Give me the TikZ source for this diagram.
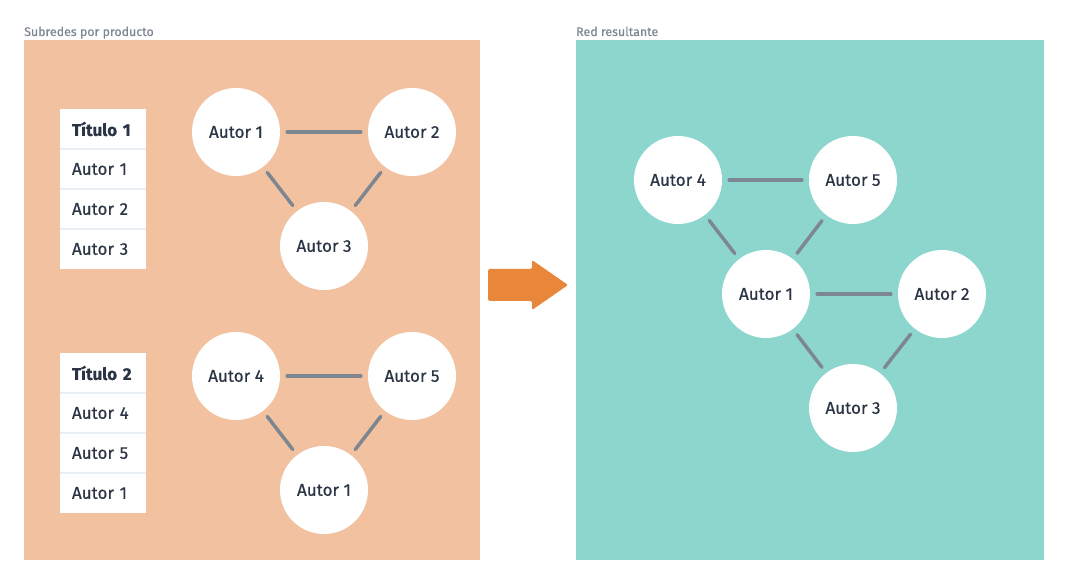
\documentclass[tikz,border=0pt]{standalone}
\usepackage{fontspec}
\setmainfont{Fira Sans}
\newfontfamily\medio{Fira Sans}[FakeBold=0.5]
\definecolor{durazno}{RGB}{242,194,160}
\definecolor{turquesa}{RGB}{141,214,206}
\definecolor{naranja}{RGB}{232,134,58}
\definecolor{gris}{RGB}{125,135,145}
\definecolor{tinta}{RGB}{42,52,68}
\definecolor{rotulo}{RGB}{125,135,148}
\definecolor{linea}{RGB}{234,239,244}

\tikzset{
  autor/.style={circle, fill=white, minimum size=88pt, inner sep=0pt,
    text=tinta, font=\medio\fontsize{17}{19}\selectfont},
  enlace/.style={gris, line width=3.5pt, line cap=round, shorten <=7pt, shorten >=7pt},
  fila/.style={rectangle, fill=white, minimum height=40pt, text width=62pt,
    inner xsep=12pt, inner ysep=0pt, align=left, text=tinta,
    font=\medio\fontsize{17}{19}\selectfont},
  separador/.style={linea, line width=2pt},
  titulo/.style={anchor=base west, inner sep=0pt, text=rotulo,
    font=\medio\fontsize{12.4}{14}\selectfont}
}

\begin{document}
\begin{tikzpicture}[x=1pt, y=-1pt]
  \useasboundingbox (0,0) rectangle (1068,585);

  %Paneles
  \fill[durazno] (24,40) rectangle (480,560);
  \fill[turquesa] (576,40) rectangle (1044,560);
  \node[titulo] (tizq) at (24,36) {Subredes por producto};
  \node[titulo] (tder) at (576,36) {Red resultante};

  %Tablas de productos
  \node[fila] (p1) at (103,129) {\textbf{Título 1}};
  \node[fila] (p1a) at (103,169) {Autor 1};
  \node[fila] (p1b) at (103,209) {Autor 2};
  \node[fila] (p1c) at (103,249) {Autor 3};
  \foreach \f in {p1,p1a,p1b} \draw[separador] (\f.south west) -- (\f.south east);

  \node[fila] (p2) at (103,373) {\textbf{Título 2}};
  \node[fila] (p2a) at (103,413) {Autor 4};
  \node[fila] (p2b) at (103,453) {Autor 5};
  \node[fila] (p2c) at (103,493) {Autor 1};
  \foreach \f in {p2,p2a,p2b} \draw[separador] (\f.south west) -- (\f.south east);

  %Subred 1
  \node[autor] (s1a) at (236,132) {Autor 1};
  \node[autor] (s1b) at (412,132) {Autor 2};
  \node[autor] (s1c) at (324,246) {Autor 3};
  \draw[enlace] (s1a) -- (s1b);
  \draw[enlace] (s1a) -- (s1c);
  \draw[enlace] (s1b) -- (s1c);

  %Subred 2
  \node[autor] (s2d) at (236,376) {Autor 4};
  \node[autor] (s2e) at (412,376) {Autor 5};
  \node[autor] (s2a) at (324,490) {Autor 1};
  \draw[enlace] (s2d) -- (s2e);
  \draw[enlace] (s2d) -- (s2a);
  \draw[enlace] (s2e) -- (s2a);

  %Flecha
  \fill[naranja, rounded corners=1.5pt] (488,269) -- (532,269) -- (532,260) -- (568,285)
    -- (532,310) -- (532,301) -- (488,301) -- cycle;

  %Red resultante
  \node[autor] (r4) at (678,180) {Autor 4};
  \node[autor] (r5) at (853,180) {Autor 5};
  \node[autor] (r1) at (766,294) {Autor 1};
  \node[autor] (r2) at (942,294) {Autor 2};
  \node[autor] (r3) at (853,408) {Autor 3};
  \draw[enlace] (r4) -- (r5);
  \draw[enlace] (r4) -- (r1);
  \draw[enlace] (r5) -- (r1);
  \draw[enlace] (r1) -- (r2);
  \draw[enlace] (r1) -- (r3);
  \draw[enlace] (r2) -- (r3);
\end{tikzpicture}
\end{document}
